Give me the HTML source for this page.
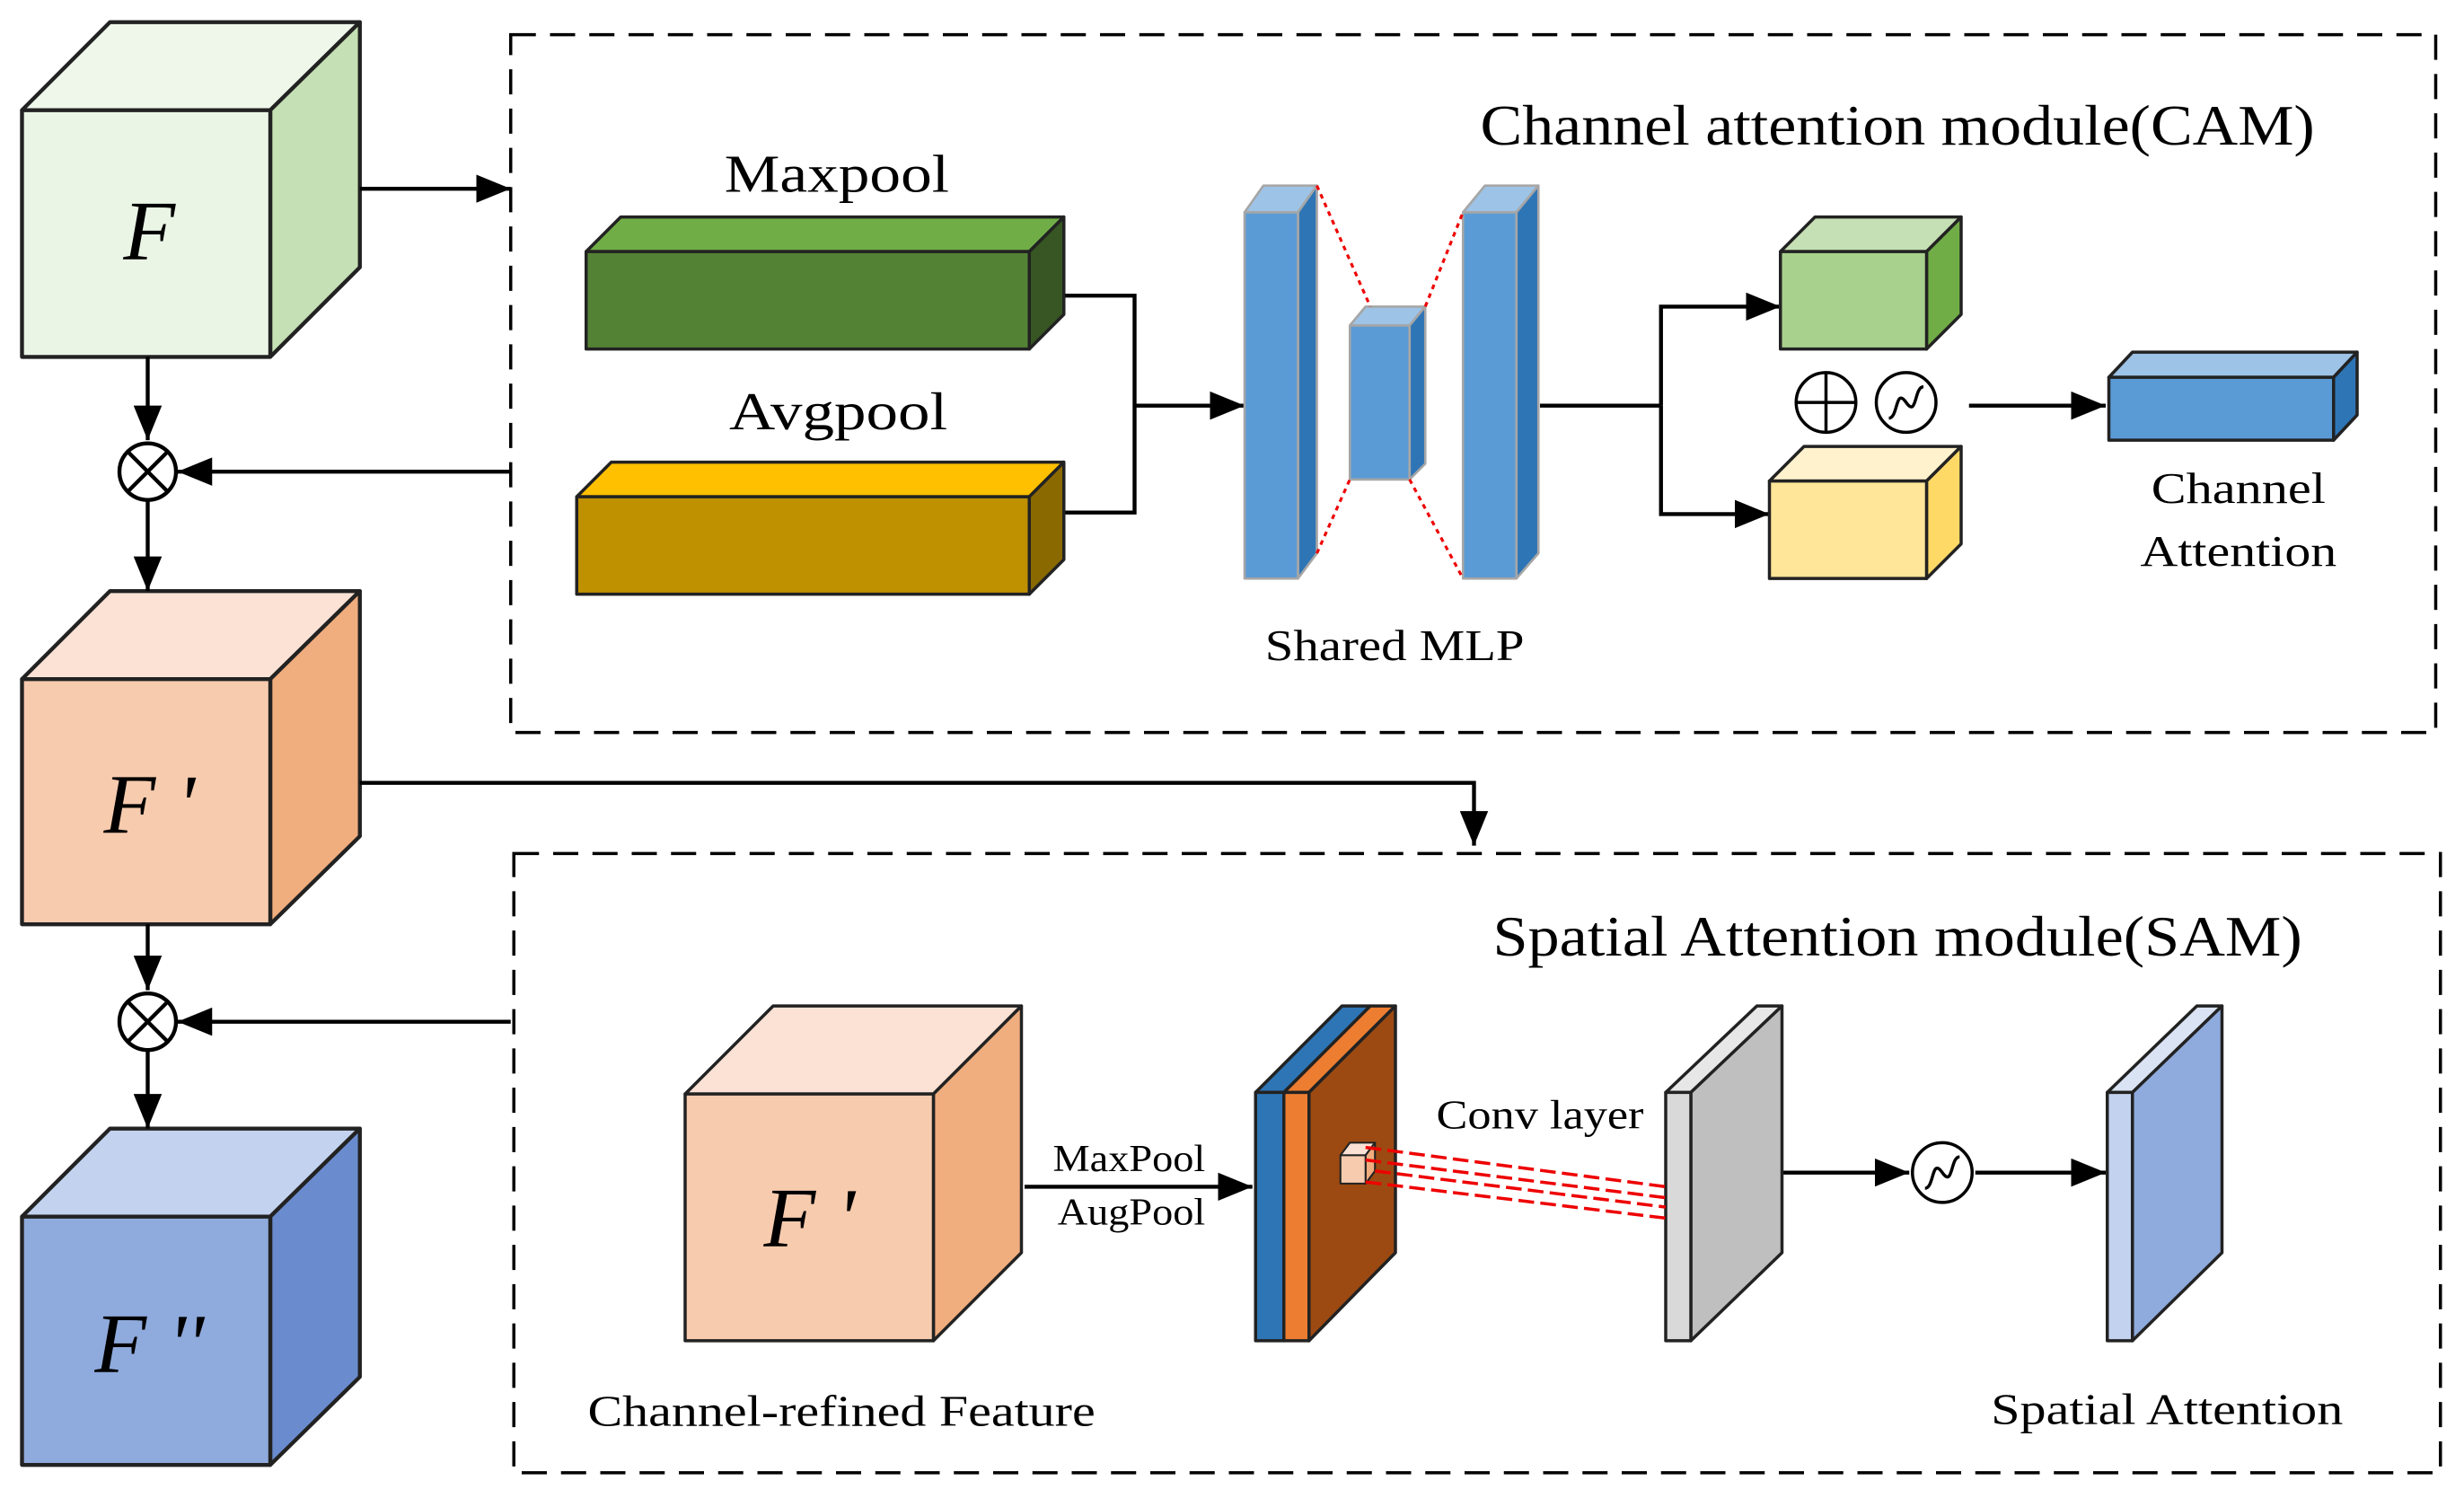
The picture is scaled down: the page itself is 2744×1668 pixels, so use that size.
<!DOCTYPE html>
<html><head><meta charset="utf-8"><style>html,body{margin:0;padding:0;background:#fff}svg{display:block}</style></head><body>
<svg width="2744" height="1668" viewBox="0 0 1568 953" xmlns="http://www.w3.org/2000/svg" font-family="Liberation Serif, serif">
<defs>
<marker id="b" markerWidth="22" markerHeight="18" refX="22" refY="9" orient="auto" markerUnits="userSpaceOnUse"><path d="M0,0L22,9L0,18z" fill="#000"/></marker></defs>
<g stroke="#222" stroke-width="2.5" stroke-linejoin="round">
<polygon points="14,70 70,14 229,14 172,70" fill="#eef7ea"/><polygon points="172,70 229,14 229,170 172,227" fill="#c5e0b4"/><rect x="14" y="70" width="158" height="157" fill="#eaf5e6"/>
<polygon points="14,432 70,376 229,376 172,432" fill="#fbe2d5"/><polygon points="172,432 229,376 229,532 172,588" fill="#f0ad7e"/><rect x="14" y="432" width="158" height="156" fill="#f7cbae"/>
<polygon points="14,774 70,718 229,718 172,774" fill="#c3d2ee"/><polygon points="172,774 229,718 229,876 172,932" fill="#6a8ccf"/><rect x="14" y="774" width="158" height="158" fill="#8faadc"/>
</g>
<g stroke="#000" stroke-width="2.5" fill="none">
<line x1="94" y1="227" x2="94" y2="280" marker-end="url(#b)"/><line x1="94" y1="318" x2="94" y2="376" marker-end="url(#b)"/>
<line x1="94" y1="588" x2="94" y2="630" marker-end="url(#b)"/><line x1="94" y1="668" x2="94" y2="718" marker-end="url(#b)"/>
<line x1="325" y1="300" x2="113" y2="300" marker-end="url(#b)"/><line x1="325" y1="650" x2="113" y2="650" marker-end="url(#b)"/>
<line x1="229" y1="120" x2="325" y2="120" marker-end="url(#b)"/>
<polyline points="229,498 938,498 938,538" marker-end="url(#b)"/>
<circle cx="94" cy="300" r="18" fill="#fff"/><path d="M81,287L107,313M107,287L81,313"/>
<circle cx="94" cy="650" r="18" fill="#fff"/><path d="M81,637L107,663M107,637L81,663"/>
<rect x="325" y="22" width="1225" height="444" stroke-dasharray="16,9" stroke-width="2"/>
<rect x="327" y="543" width="1226" height="394" stroke-dasharray="16,9" stroke-width="2"/>
<polyline points="677,188 722,188 722,326 677,326"/><line x1="722" y1="258" x2="792" y2="258" marker-end="url(#b)"/>
<line x1="980" y1="258" x2="1057" y2="258"/><polyline points="1057,258 1057,195 1133,195" marker-end="url(#b)"/><polyline points="1057,258 1057,327 1126,327" marker-end="url(#b)"/>
<line x1="1253" y1="258" x2="1340" y2="258" marker-end="url(#b)"/>
<line x1="652" y1="755" x2="797" y2="755" marker-end="url(#b)"/>
<line x1="1134" y1="746" x2="1215" y2="746" marker-end="url(#b)"/><line x1="1257" y1="746" x2="1340" y2="746" marker-end="url(#b)"/>
</g>
<g stroke="#222" stroke-width="2" stroke-linejoin="round">
<polygon points="373,160 395,138 677,138 655,160" fill="#70ad47"/><polygon points="655,160 677,138 677,200 655,222" fill="#375623"/><rect x="373" y="160" width="282" height="62" fill="#548235"/>
<polygon points="367,316 389,294 677,294 655,316" fill="#ffc000"/><polygon points="655,316 677,294 677,356 655,378" fill="#8a6a00"/><rect x="367" y="316" width="288" height="62" fill="#bf9000"/>
</g>
<g stroke="#a6a6a6" stroke-width="1.5" stroke-linejoin="round">
<polygon points="792,135 804,118 838,118 826,135" fill="#9dc3e6"/><polygon points="826,135 838,118 838,352 826,368" fill="#2e75b6"/><rect x="792" y="135" width="34" height="233" fill="#5b9bd5"/>
<polygon points="859,207 869,195 907,195 897,207" fill="#9dc3e6"/><polygon points="897,207 907,195 907,295 897,305" fill="#2e75b6"/><rect x="859" y="207" width="38" height="98" fill="#5b9bd5"/>
<polygon points="931,135 945,118 979,118 965,135" fill="#9dc3e6"/><polygon points="965,135 979,118 979,352 965,368" fill="#2e75b6"/><rect x="931" y="135" width="34" height="233" fill="#5b9bd5"/>
</g>
<g stroke="#e00" stroke-width="1.8" stroke-dasharray="3,3">
<line x1="838" y1="118" x2="872" y2="195"/><line x1="838" y1="352" x2="859" y2="305"/><line x1="907" y1="195" x2="931" y2="135"/><line x1="897" y1="305" x2="931" y2="368"/>
</g>
<g stroke="#222" stroke-width="2" stroke-linejoin="round">
<polygon points="1133,160 1155,138 1248,138 1226,160" fill="#c5e0b4"/><polygon points="1226,160 1248,138 1248,200 1226,222" fill="#70ad47"/><rect x="1133" y="160" width="93" height="62" fill="#a9d18e"/>
<polygon points="1126,306 1148,284 1248,284 1226,306" fill="#fff2cc"/><polygon points="1226,306 1248,284 1248,346 1226,368" fill="#ffd966"/><rect x="1126" y="306" width="100" height="62" fill="#ffe699"/>
<polygon points="1342,240 1357,224 1500,224 1485,240" fill="#9dc3e6"/><polygon points="1485,240 1500,224 1500,264 1485,280" fill="#2e75b6"/><rect x="1342" y="240" width="143" height="40" fill="#5b9bd5"/>
<polygon points="436,696 492,640 650,640 594,696" fill="#fbe2d5"/><polygon points="594,696 650,640 650,797 594,853" fill="#f0ad7e"/><rect x="436" y="696" width="158" height="157" fill="#f7cbae"/>
<polygon points="799,695 854,640 872,640 817,695" fill="#2e75b6"/><rect x="799" y="695" width="18" height="158" fill="#2e75b6"/>
<polygon points="817,695 872,640 888,640 833,695" fill="#ed7d31"/><polygon points="833,695 888,640 888,797 833,853" fill="#9c4a12"/><rect x="817" y="695" width="16" height="158" fill="#ed7d31"/>
<polygon points="853,735 859,727 875,727 869,735" fill="#fbe2d5" stroke-width="1.2"/><polygon points="869,735 875,727 875,745 869,753" fill="#f0ad7e" stroke-width="1.2"/><rect x="853" y="735" width="16" height="18" fill="#f7cbae" stroke-width="1.2"/>
<polygon points="1060,695 1118,640 1134,640 1076,695" fill="#e7e7e7"/><polygon points="1076,695 1134,640 1134,797 1076,853" fill="#bfbfbf"/><rect x="1060" y="695" width="16" height="158" fill="#d9d9d9"/>
<polygon points="1341,695 1398,640 1414,640 1357,695" fill="#dae3f3"/><polygon points="1357,695 1414,640 1414,797 1357,853" fill="#8faadc"/><rect x="1341" y="695" width="16" height="158" fill="#c3d2ee"/>
</g>
<g stroke="#e00" stroke-width="2" stroke-dasharray="10,4">
<line x1="869" y1="730" x2="1060" y2="755"/><line x1="869" y1="738" x2="1060" y2="762"/><line x1="875" y1="745" x2="1060" y2="768"/><line x1="869" y1="752" x2="1060" y2="775"/>
</g>
<g stroke="#000" stroke-width="2" fill="#fff">
<circle cx="1162" cy="256" r="19"/><circle cx="1213" cy="256" r="19"/><circle cx="1236" cy="746" r="19"/>
</g>
<g stroke="#000" stroke-width="2" fill="none">
<path d="M1143,256H1181M1162,237V275"/>
<path d="M1202,266C1208,266 1206,246 1213,256C1220,266 1218,246 1224,246"/>
<path d="M1225,756C1231,756 1229,736 1236,746C1243,756 1241,736 1247,736"/>
</g>
<g fill="#000" lengthAdjust="spacingAndGlyphs">
<text x="95" y="165" font-size="54" font-style="italic" text-anchor="middle">F</text>
<text x="95" y="530" font-size="54" font-style="italic" text-anchor="middle">F '</text>
<text x="95" y="873" font-size="54" font-style="italic" text-anchor="middle">F ''</text>
<text x="515" y="793" font-size="54" font-style="italic" text-anchor="middle">F '</text>
<text x="942" y="92" font-size="36" textLength="531" lengthAdjust="spacingAndGlyphs">Channel attention module(CAM)</text>
<text x="461" y="122" font-size="34" textLength="143" lengthAdjust="spacingAndGlyphs">Maxpool</text>
<text x="464" y="273" font-size="34" textLength="139" lengthAdjust="spacingAndGlyphs">Avgpool</text>
<text x="805" y="420" font-size="28" textLength="165" lengthAdjust="spacingAndGlyphs">Shared MLP</text>
<text x="1369" y="320" font-size="28" textLength="111" lengthAdjust="spacingAndGlyphs">Channel</text>
<text x="1362" y="360" font-size="28" textLength="125" lengthAdjust="spacingAndGlyphs">Attention</text>
<text x="950" y="608" font-size="36" textLength="515" lengthAdjust="spacingAndGlyphs">Spatial Attention module(SAM)</text>
<text x="374" y="907" font-size="28" textLength="323" lengthAdjust="spacingAndGlyphs">Channel-refined Feature</text>
<text x="670" y="745" font-size="24" textLength="97" lengthAdjust="spacingAndGlyphs">MaxPool</text>
<text x="673" y="779" font-size="24" textLength="94" lengthAdjust="spacingAndGlyphs">AugPool</text>
<text x="914" y="718" font-size="26" textLength="132" lengthAdjust="spacingAndGlyphs">Conv layer</text>
<text x="1267" y="906" font-size="28" textLength="224" lengthAdjust="spacingAndGlyphs">Spatial Attention</text>
</g>
</svg>
</body></html>
